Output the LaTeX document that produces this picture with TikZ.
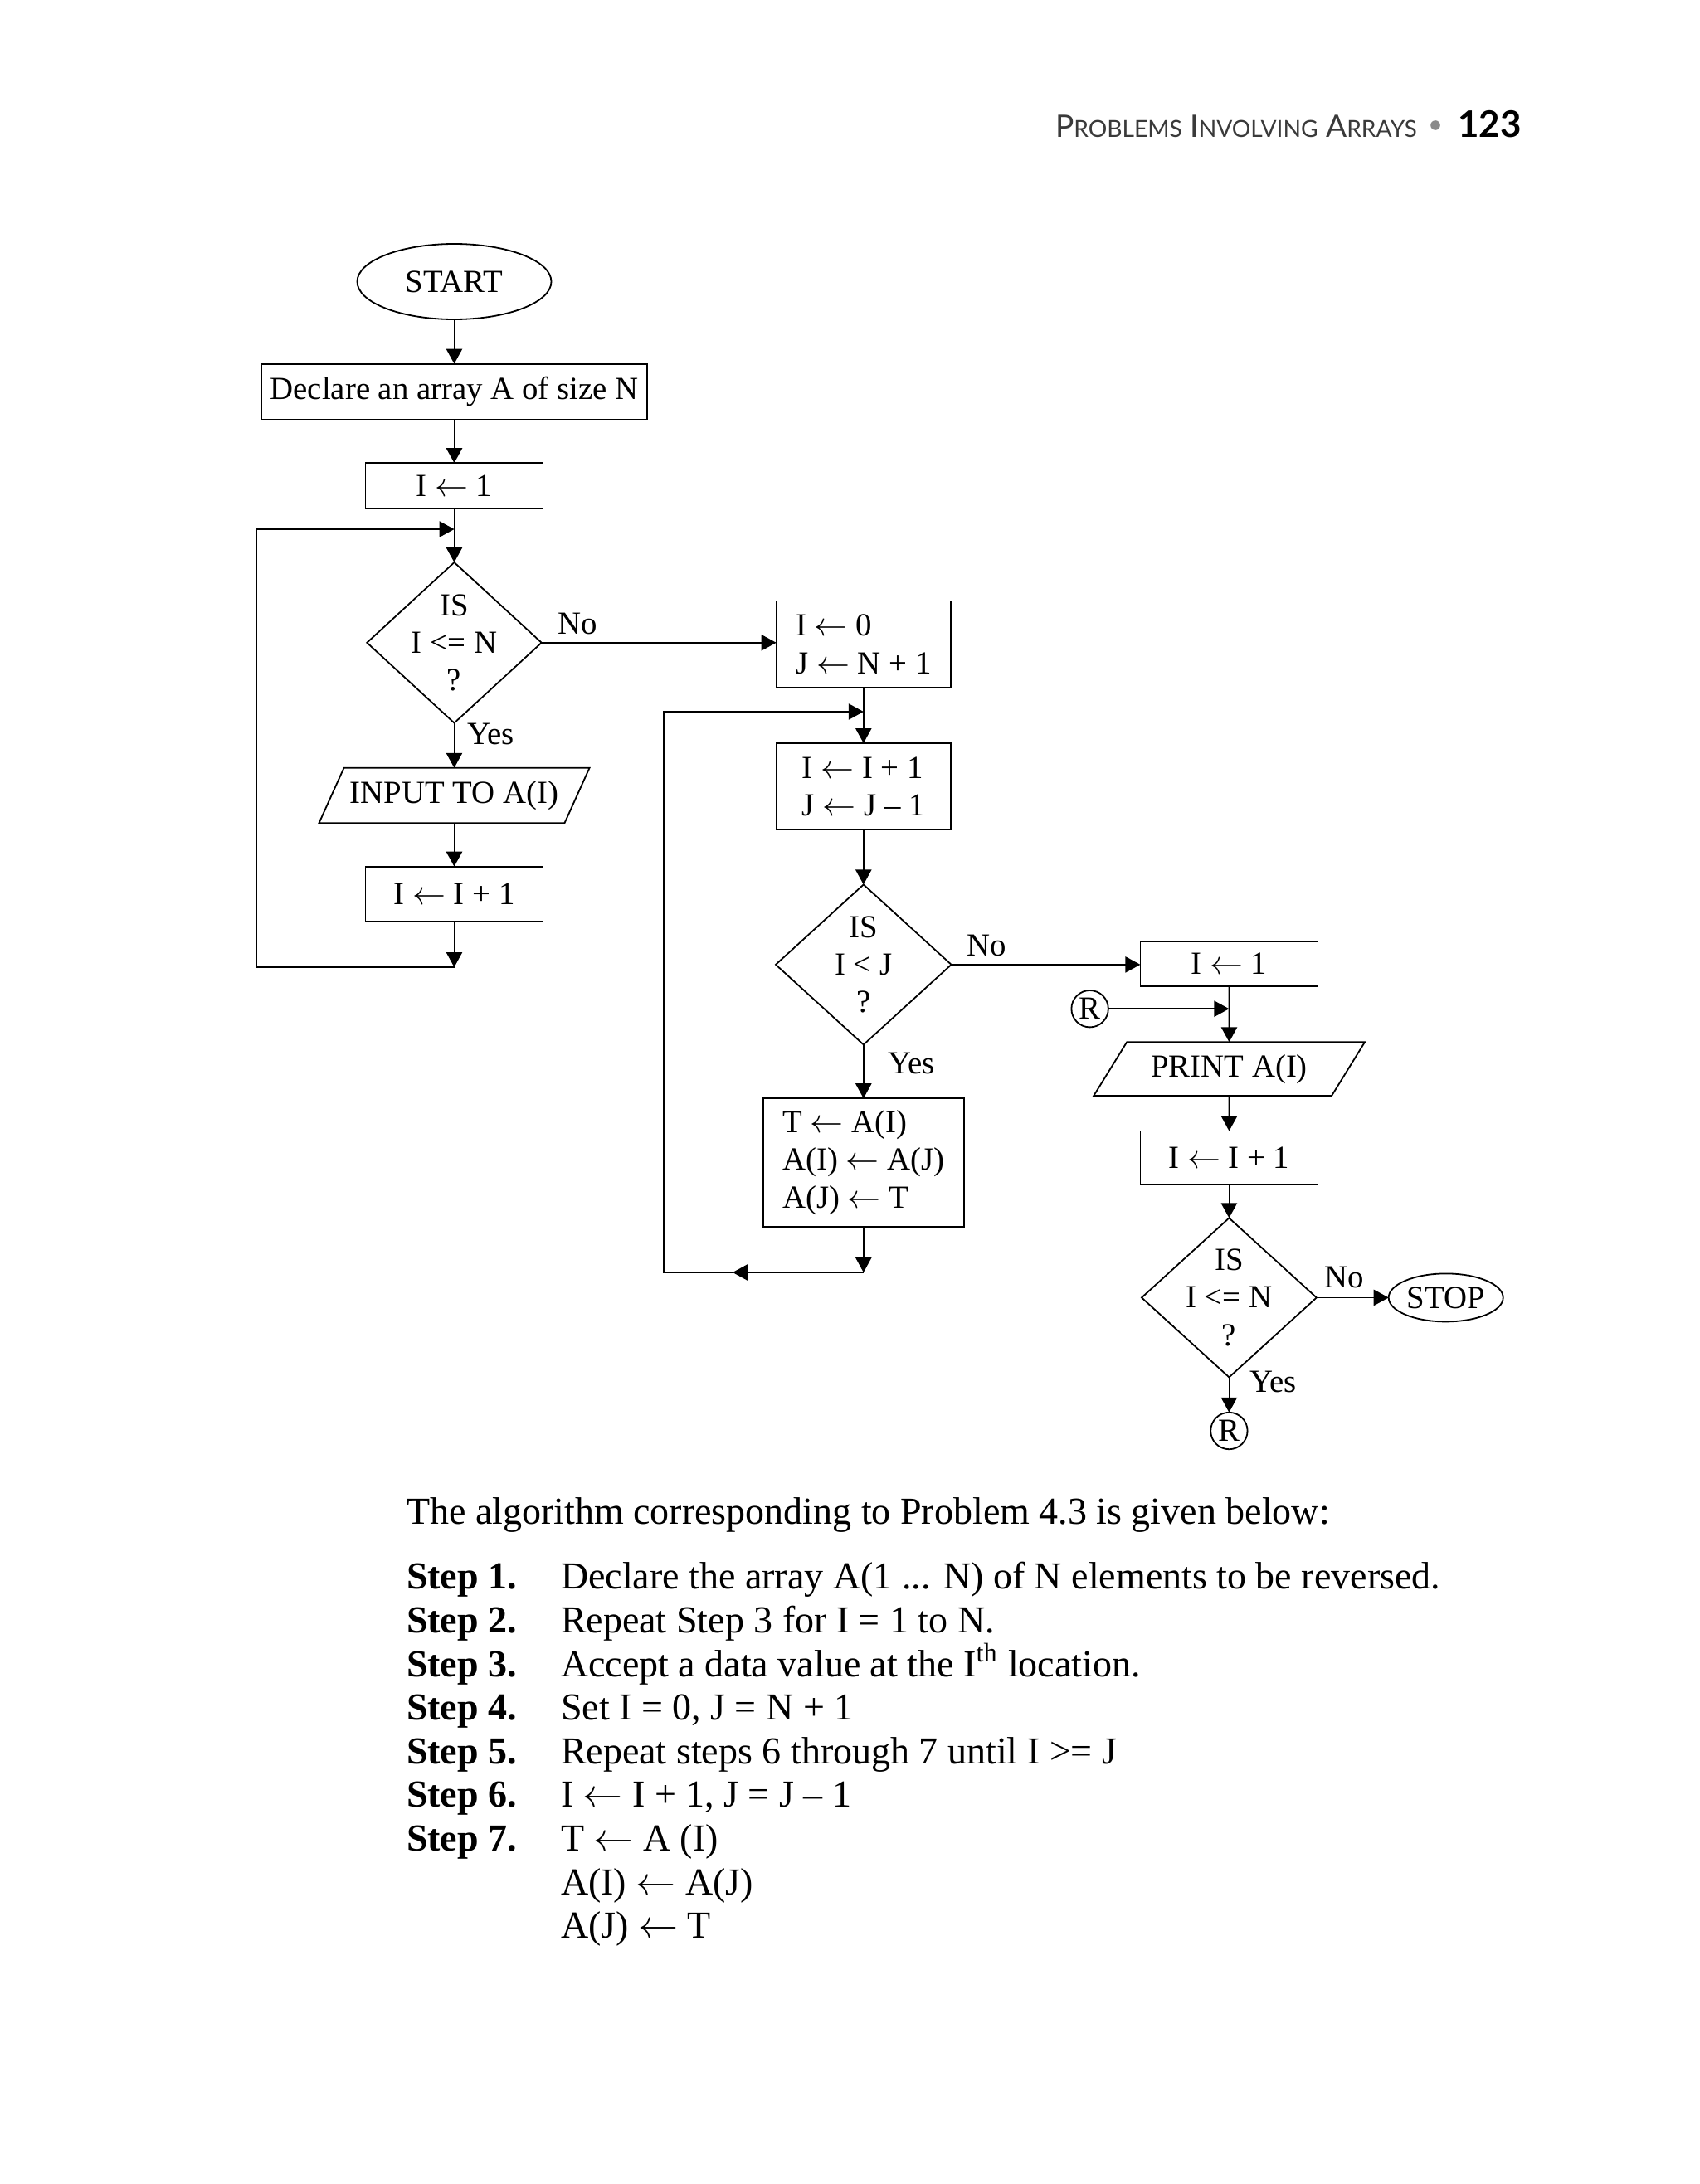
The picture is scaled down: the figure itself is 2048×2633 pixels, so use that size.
\documentclass[tikz,border=0pt]{standalone}
\usepackage{fontspec}
\setmainfont{Liberation Serif}
\newfontfamily\hdrfont{Lato}
\usetikzlibrary{shapes.geometric,arrows.meta}
\definecolor{hdrgray}{HTML}{3A3A3A}
\definecolor{bulgray}{HTML}{8A8A8A}
\newcommand\fcsize{\fontsize{9.7pt}{11.3pt}\selectfont}
\newcommand\stsize{\fontsize{11.5pt}{13.2pt}\selectfont}
\newcommand\la{$\leftarrow$}
\newcommand\paradraw[2]{\draw[ln] ([xshift=#2]#1.north west) -- ([xshift=#2]#1.north east) -- ([xshift=-#2]#1.south east) -- ([xshift=-#2]#1.south west) -- cycle;}
\newcommand\hsc[2]{#1{\fontsize{7.05pt}{9pt}\selectfont #2}}
\begin{document}
\begin{tikzpicture}[x=0.25pt,y=-0.25pt,
  every node/.style={inner sep=0pt,outer sep=0pt},
  ln/.style={line width=0.45pt},
  arr/.style={ln,-{Triangle[length=4.5pt,width=4.8pt]}},
  procbox/.style={draw,ln,rectangle,font=\fcsize,align=left},
  termin/.style={draw,ln,ellipse,font=\fcsize},
  decis/.style={draw,ln,diamond},
  dtext/.style={font=\fcsize,align=center},
  iobox/.style={rectangle,font=\fcsize},
  lab/.style={anchor=base west,font=\fcsize},
  conn/.style={draw,ln,circle,minimum size=11.1pt,font=\fcsize},
  steplab/.style={anchor=base west,font=\stsize\bfseries},
  steptxt/.style={anchor=base west,font=\stsize},
]
\useasboundingbox (0,0) rectangle (2048,2633);

% header
\node[anchor=base west,font=\hdrfont\fontsize{9.3pt}{11pt}\selectfont,text=hdrgray] (hdr) at (1272,166)
  {\hsc{P}{ROBLEMS} \hsc{I}{NVOLVING} \hsc{A}{RRAYS}};
\node[circle,fill=bulgray,minimum size=2.9pt] (bul) at (1730,151) {};
\node[anchor=base west,font=\hdrfont\fontsize{11pt}{13pt}\selectfont\bfseries] (pg) at (1757,166) {123};

% column 1
\node[termin,minimum width=58.5pt,minimum height=22.75pt] (start) at (547.5,339.5) {START};
\node[procbox,minimum width=116.25pt,minimum height=16.7pt] (decl) at (547.5,472) {Declare an array A of size N};
\node[procbox,minimum width=53.5pt,minimum height=13.75pt] (i1) at (547.5,585.7) {I \la{} 1};
\node[decis,minimum width=52.6pt,minimum height=48.4pt] (d1) at (547.5,774.8) {};
\node[dtext] (d1t) at (d1.center) {IS\\I <= N\\?};
\node[iobox,minimum width=74pt,minimum height=16.6pt] (input) at (547.5,959) {INPUT TO A(I)};
\paradraw{input}{3.75pt}
\node[procbox,minimum width=53.5pt,minimum height=16.5pt] (inc1) at (547.5,1077.7) {I \la{} I + 1};
\coordinate (c1t) at (547.5,638);
\coordinate (c1b) at (547.5,1166);
\coordinate (c1l) at (309,638);

% column 2
\node[procbox,minimum width=52.6pt,minimum height=26.1pt] (b0) at (1040.8,776.7) {I \la{} 0\\J \la{} N + 1};
\node[procbox,minimum width=52.6pt,minimum height=26.1pt] (b2) at (1040.8,948.2) {I \la{} I + 1\\J \la{} J – 1};
\node[decis,minimum width=52.9pt,minimum height=48.25pt] (d2) at (1040.8,1162.9) {};
\node[dtext] (d2t) at (d2.center) {IS\\I < J\\?};
\node[procbox,minimum width=60.6pt,minimum height=38.7pt] (tb) at (1040.8,1401.6) {T \la{} A(I)\\A(I) \la{} A(J)\\A(J) \la{} T};
\coordinate (c2t) at (1040.8,858);
\coordinate (c2b) at (1040.8,1534);
\coordinate (c2m) at (883,1534);
\coordinate (c2l) at (800,858);

% column 3
\node[procbox,minimum width=53.5pt,minimum height=13.6pt] (p1) at (1481.4,1162.1) {I \la{} 1};
\node[conn] (r1) at (1313.6,1216.2) {R};
\node[iobox,minimum width=71.7pt,minimum height=16.2pt] (print) at (1481.6,1288.7) {PRINT A(I)};
\paradraw{print}{5pt}
\node[procbox,minimum width=53.5pt,minimum height=16.2pt] (inc2) at (1481.4,1395.9) {I \la{} I + 1};
\node[decis,minimum width=52.7pt,minimum height=48pt] (d3) at (1481.4,1564.4) {};
\node[dtext] (d3t) at (d3.center) {IS\\I <= N\\?};
\node[termin,minimum width=34.5pt,minimum height=14.5pt] (stop) at (1742.7,1564.4) {STOP};
\node[conn] (r2) at (1481.4,1725) {R};

% connectors
\draw[arr] (start) -- (decl);
\draw[arr] (decl) -- (i1);
\draw[arr] (i1) -- (d1);
\draw[arr] (d1) -- (input);
\draw[arr] (input) -- (inc1);
\draw[arr] (inc1) -- (c1b);
\draw[arr] (c1b) -| (c1l) -- (c1t);
\draw[arr] (d1.east) -- (d1.east -| b0.west);

\draw[arr] (b0) -- (b2);
\draw[arr] (c2m) -| (c2l) -- (c2t);
\draw[arr] (b2) -- (d2);
\draw[arr] (d2) -- (tb);
\draw[arr] (tb) -- (c2b);
\draw[arr] (c2b) -- (c2m);
\draw[arr] (d2.east) -- (d2.east -| p1.west);

\draw[arr] (p1) -- (print);
\draw[arr] (r1) -- (r1 -| p1);
\draw[arr] (print) -- (inc2);
\draw[arr] (inc2) -- (d3);
\draw[arr] (d3.east) -- (stop.west);
\draw[arr] (d3) -- (r2);

% labels
\node[lab] (no1) at (672,764.7) {No};
\node[lab] (yes1) at (563,897.6) {Yes};
\node[lab] (no2) at (1165,1152.5) {No};
\node[lab] (yes2) at (1070,1294) {Yes};
\node[lab] (no3) at (1596,1552) {No};
\node[lab] (yes3) at (1506,1678) {Yes};

% algorithm text
\node[steptxt] (intro) at (490,1837.7) {The algorithm corresponding to Problem 4.3 is given below:};
\node[steplab] (s1) at (490,1915.7) {Step 1.};
\node[steptxt] (t1) at (676,1915.7) {Declare the array A(1 ... N) of N elements to be reversed.};
\node[steplab] (s2) at (490,1968.3) {Step 2.};
\node[steptxt] (t2) at (676,1968.3) {Repeat Step 3 for I = 1 to N.};
\node[steplab] (s3) at (490,2021) {Step 3.};
\node[steptxt] (t3) at (676,2021) {Accept a data value at the I\textsuperscript{th} location.};
\node[steplab] (s4) at (490,2073.3) {Step 4.};
\node[steptxt] (t4) at (676,2073.3) {Set I = 0, J = N + 1};
\node[steplab] (s5) at (490,2126) {Step 5.};
\node[steptxt] (t5) at (676,2126) {Repeat steps 6 through 7 until I >= J};
\node[steplab] (s6) at (490,2178.3) {Step 6.};
\node[steptxt] (t6) at (676,2178.3) {I \la{} I + 1, J = J – 1};
\node[steplab] (s7) at (490,2231.7) {Step 7.};
\node[steptxt] (t7) at (676,2231.7) {T \la{} A (I)};
\node[steptxt] (t8) at (676,2284.3) {A(I) \la{} A(J)};
\node[steptxt] (t9) at (676,2336.7) {A(J) \la{} T};
\end{tikzpicture}
\end{document}
